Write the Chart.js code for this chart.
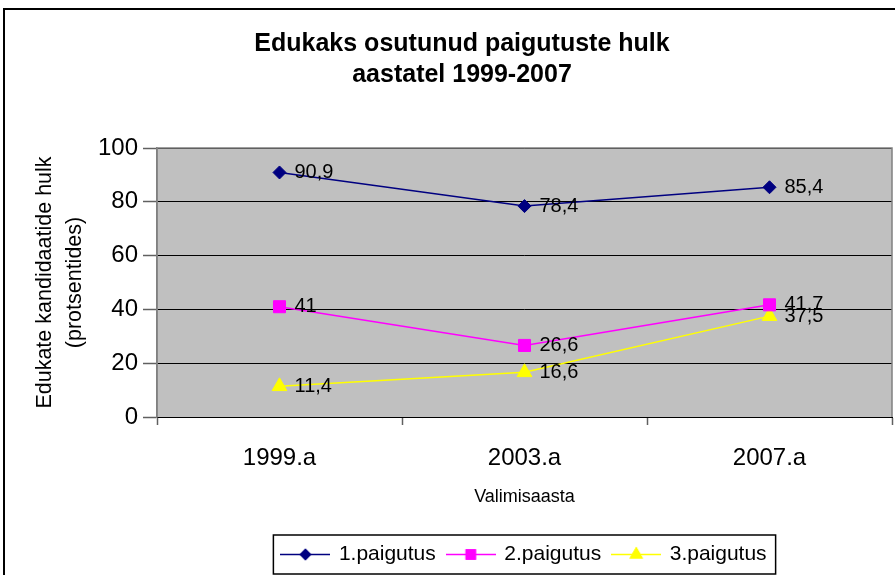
<!DOCTYPE html>
<html>
<head>
<meta charset="utf-8">
<script src="https://cdn.jsdelivr.net/npm/chart.js@4/dist/chart.umd.min.js"></script>
<style>
  html, body { margin: 0; padding: 0; background: #fff; overflow: hidden; }
  #wrap { position: absolute; left: 0; top: 0; width: 895px; height: 575px; }
</style>
</head>
<body>
<div id="wrap"><canvas id="myChart" width="895" height="575"></canvas></div>
<script>
const years = ["1999.a", "2003.a", "2007.a"];
const seriesNames = ["1.paigutus", "2.paigutus", "3.paigutus"];
const place1 = [90.9, 78.4, 85.4];
const place2 = [41, 26.6, 41.7];
const place3 = [11.4, 16.6, 37.5];
const yTicks = [0, 20, 40, 60, 80, 100];

const FONT = "'Liberation Sans', Arial, sans-serif";
const colors = ["#000080", "#FF00FF", "#FFFF00"];
const markers = ["rectRot", "rect", "triangle"];
const markerSizes = [6.5, 8.5, 8.5];

// small legend icons: line + marker
function makeIcon(color, style, r) {
    const c = document.createElement("canvas");
    c.width = 50;
    c.height = 21;
    const ctx = c.getContext("2d");
    ctx.strokeStyle = color;
    ctx.lineWidth = 1.5;
    ctx.beginPath();
    ctx.moveTo(0, 10.5);
    ctx.lineTo(50, 10.5);
    ctx.stroke();
    ctx.fillStyle = color;
    Chart.helpers.drawPoint(ctx, {pointStyle: style, radius: r, borderWidth: 1}, 25, 10.5);
    ctx.fill();
    ctx.stroke();
    return c;
}
const legendIcons = colors.map((c, i) => makeIcon(c, markers[i], markerSizes[i] * 0.75));

const framePlugin = {
    id: "frame",
    beforeDraw(chart) {
        const ctx = chart.ctx;
        const a = chart.chartArea;
        ctx.save();
        ctx.strokeStyle = "#000";
        ctx.lineWidth = 2;
        ctx.strokeRect(4, 9, 1000, 1000);
        ctx.fillStyle = "#C0C0C0";
        ctx.fillRect(a.left, a.top, a.right - a.left, a.bottom - a.top);
        ctx.restore();
    },
    beforeDatasetsDraw(chart) {
        const ctx = chart.ctx;
        const a = chart.chartArea;
        ctx.save();
        ctx.strokeStyle = "#808080";
        ctx.lineWidth = 1.5;
        ctx.beginPath();
        ctx.moveTo(a.left, a.bottom);
        ctx.lineTo(a.left, a.top);
        ctx.lineTo(a.right, a.top);
        ctx.lineTo(a.right, a.bottom);
        ctx.stroke();
        ctx.restore();
    },
    afterDatasetsDraw(chart) {
        const ctx = chart.ctx;
        ctx.save();
        ctx.font = "20px " + FONT;
        ctx.fillStyle = "#000";
        ctx.textAlign = "left";
        ctx.textBaseline = "middle";
        chart.data.datasets.forEach((ds, i) => {
            const meta = chart.getDatasetMeta(i);
            meta.data.forEach((pt, j) => {
                ctx.fillText(String(ds.data[j]).replace(".", ","), pt.x + 15, pt.y);
            });
        });
        // legend border
        const lg = chart.legend;
        const hb = lg.legendHitBoxes;
        const l = hb[0].left - 9;
        const r = hb[hb.length - 1].left + hb[hb.length - 1].width + 9;
        ctx.strokeStyle = "#000";
        ctx.lineWidth = 1.5;
        ctx.strokeRect(l, lg.top + 3, r - l, lg.bottom - lg.top - 4);
        ctx.restore();
    }
};

const datasets = [place1, place2, place3].map((vals, i) => ({
    label: seriesNames[i],
    data: vals,
    borderColor: colors[i],
    backgroundColor: colors[i],
    borderWidth: 1.5,
    pointStyle: markers[i],
    pointRadius: markerSizes[i],
    pointBorderWidth: 1,
    pointBackgroundColor: colors[i],
    pointBorderColor: colors[i],
    tension: 0
}));

new Chart(document.getElementById("myChart"), {
    type: "line",
    data: { labels: years, datasets: datasets },
    options: {
        responsive: false,
        animation: false,
        devicePixelRatio: 1,
        layout: { autoPadding: false, padding: { left: 32, right: 3, top: 0, bottom: 0 } },
        plugins: {
            tooltip: { enabled: false },
            title: {
                display: true,
                text: ["Edukaks osutunud paigutuste hulk", "aastatel 1999-2007"],
                color: "#000",
                font: { family: FONT, size: 25, weight: "bold", lineHeight: "31.5px" },
                padding: { top: 28, bottom: 57 }
            },
            legend: {
                position: "bottom",
                fullSize: false,
                labels: {
                    color: "#000",
                    font: { family: FONT, size: 21 },
                    usePointStyle: true,
                    pointStyleWidth: 46,
                    padding: 12,
                    generateLabels(chart) {
                        const items = Chart.defaults.plugins.legend.labels.generateLabels(chart);
                        items.forEach((it, i) => { it.pointStyle = legendIcons[i]; });
                        return items;
                    }
                }
            }
        },
        scales: {
            x: {
                offset: true,
                afterFit(scale) {
                    scale.height = 115;
                    scale.paddingLeft = 0;
                    scale.paddingRight = 0;
                },
                grid: {
                    offset: true,
                    drawOnChartArea: false,
                    drawTicks: true,
                    tickLength: 8,
                    tickColor: "#606060",
                    tickWidth: 1.5
                },
                border: { color: "#000", width: 1 },
                ticks: { color: "#000", font: { family: FONT, size: 24 }, padding: 19 },
                title: {
                    display: true,
                    text: "Valimisaasta",
                    color: "#000",
                    font: { family: FONT, size: 18 },
                    padding: { top: 0, bottom: 24 }
                }
            },
            y: {
                min: 0,
                max: 100,
                afterFit(scale) { scale.width = 125; },
                afterBuildTicks(scale) { scale.ticks = yTicks.map(v => ({ value: v })); },
                grid: {
                    color: "#000",
                    lineWidth: 1,
                    drawTicks: true,
                    tickLength: 14,
                    tickColor: "#606060",
                    tickWidth: 1.5
                },
                border: { color: "#808080", width: 1.5 },
                ticks: { color: "#000", font: { family: FONT, size: 24 }, padding: 5 },
                title: {
                    display: true,
                    text: ["Edukate kandidaatide hulk", "(protsentides)"],
                    color: "#000",
                    font: { family: FONT, size: 21.5, lineHeight: "30px" },
                    padding: { top: -2, bottom: 0 }
                }
            }
        }
    },
    plugins: [framePlugin]
});
</script>
</body>
</html>
